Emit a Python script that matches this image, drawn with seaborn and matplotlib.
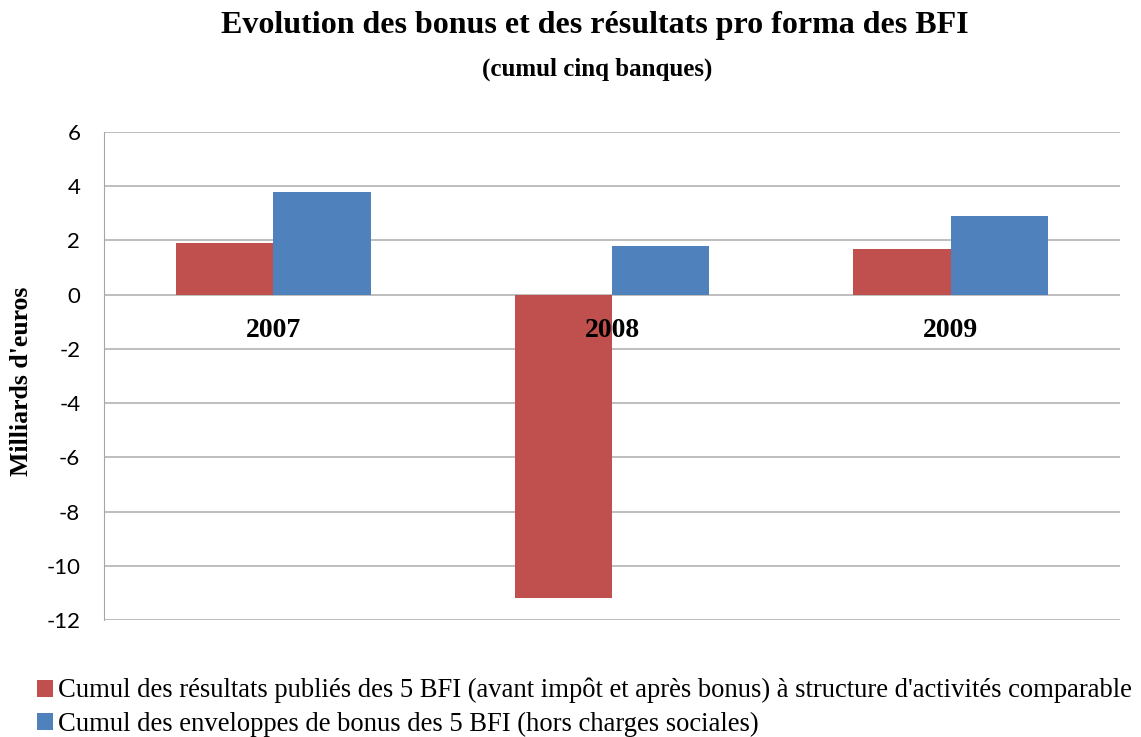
import pandas as pd
import matplotlib.pyplot as plt
import matplotlib.transforms as mtransforms
import seaborn as sns

# Data (billions of euros)
years = ['2007', '2008', '2009']
resultats = [1.9, -11.2, 1.7]
bonus = [3.8, 1.8, 2.9]
series_names = [
    "Cumul des résultats publiés des 5 BFI (avant impôt et après bonus) à structure d'activités comparable",
    "Cumul des enveloppes de bonus des 5 BFI (hors charges sociales)",
]
colors = ['#C0504D', '#4F81BD']

df = pd.DataFrame({
    'Année': years * 2,
    'Valeur': resultats + bonus,
    'Série': [series_names[0]] * 3 + [series_names[1]] * 3,
})

sns.set_style('white')
plt.rcParams['axes.unicode_minus'] = False
plt.rcParams['text.color'] = 'black'
plt.rcParams['ytick.color'] = 'black'
plt.rcParams['axes.labelcolor'] = 'black'
serif = ['Liberation Serif', 'DejaVu Serif']

fig = plt.figure(figsize=(11.41, 7.37), dpi=100)
ax = fig.add_axes([0.0911, 0.1587, 0.8905, 0.6622])

sns.barplot(data=df, x='Année', y='Valeur', hue='Série', palette=colors,
            width=0.575, gap=0, saturation=1, ax=ax, linewidth=0)

ax.set_ylim(-12, 6)
ax.set_yticks(range(-12, 7, 2))
ax.yaxis.grid(True, color='#B3B3B3', linewidth=1.2)
ax.set_axisbelow(True)
for s in ['top', 'right', 'bottom']:
    ax.spines[s].set_visible(False)
ax.spines['left'].set_color('#A6A6A6')
ax.tick_params(axis='y', length=0, labelsize=16, pad=17)
for lbl in ax.get_yticklabels():
    lbl.set_family(['Lato', 'DejaVu Sans'])

# category labels sit just under the zero line, drawn over the bars
ax.set_xticklabels([])
ax.set_xlabel('')
ax.tick_params(axis='x', length=0)
off = mtransforms.offset_copy(ax.transData, fig=fig, x=0, y=-26, units='points')
for x, yr in zip(ax.get_xticks(), years):
    ax.text(x, 0, yr, transform=off, ha='center', va='center', fontsize=20,
            fontweight='bold', family=serif, zorder=5)

ax.set_ylabel("Milliards d'euros", fontsize=18.5, fontweight='bold', family=serif)
ax.yaxis.set_label_coords(-0.07, 0.49)

fig.text(0.5215, 1 - 25 / 737, 'Evolution des bonus et des résultats pro forma des BFI',
         ha='center', va='center', fontsize=23, fontweight='bold', family=serif)
fig.text(0.5235, 1 - 69 / 737, '(cumul cinq banques)',
         ha='center', va='center', fontsize=18, fontweight='bold', family=serif)

handles, labels = ax.get_legend_handles_labels()
ax.get_legend().remove()
fig.legend(handles, labels, loc='lower left', bbox_to_anchor=(0.011, -0.032),
           frameon=False, handlelength=0.6, handleheight=0.6, handletextpad=0.2,
           labelspacing=0.3, prop={'family': serif, 'size': 19.2})

fig.savefig('out.png', dpi=100)
